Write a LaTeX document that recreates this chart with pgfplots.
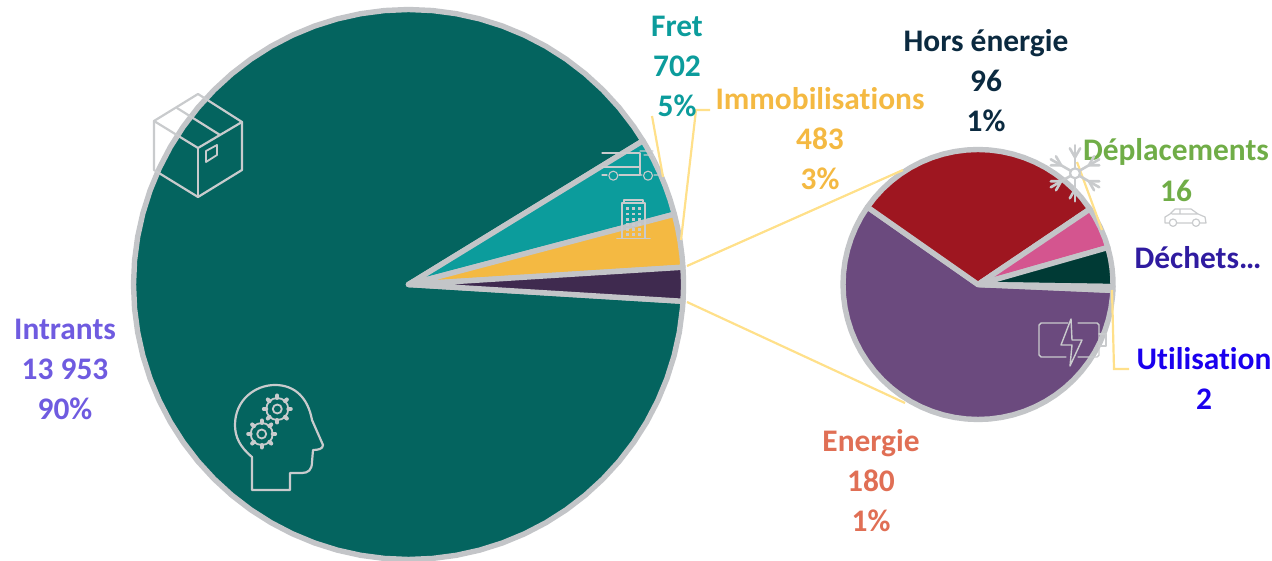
\documentclass[border=0pt]{standalone}
\usepackage{pgfplots}
\usepackage{fontspec}
\setmainfont{Carlito}[Ligatures=NoCommon]
\pgfplotsset{compat=1.18}
\definecolor{ring}{HTML}{C3C5C8}
\definecolor{cIntr}{HTML}{04645F}
\definecolor{cFret}{HTML}{0C9C9C}
\definecolor{cImmo}{HTML}{F4B942}
\definecolor{cRest}{HTML}{3F2A4F}
\definecolor{cHors}{HTML}{9E1620}
\definecolor{cDepl}{HTML}{D4558F}
\definecolor{cDech}{HTML}{003A35}
\definecolor{cUtil}{HTML}{C3C5C8}
\definecolor{cEner}{HTML}{6B4A7E}
\definecolor{tIntr}{HTML}{6F5BE0}
\definecolor{tFret}{HTML}{0C9C9C}
\definecolor{tImmo}{HTML}{F4B942}
\definecolor{tHors}{HTML}{0B2A40}
\definecolor{tDepl}{HTML}{70AD47}
\definecolor{tDech}{HTML}{2F1BA0}
\definecolor{tUtil}{HTML}{1A00EE}
\definecolor{tEner}{HTML}{E06F55}
\definecolor{lead}{HTML}{FFE08A}
\definecolor{icon}{HTML}{C9CBCD}
\pgfplotsset{base/.style={hide axis,scale only axis,width=636pt,height=280.5pt,clip=false,at={(0,0)},anchor=south west},
 wedge/.style={data cs=polar,mark=none,draw=ring,line join=round,line width=2.7pt,fill=#1}}
\tikzset{lbl/.style={font=\fontsize{15.7pt}{17pt}\selectfont\bfseries,inner sep=0pt,anchor=base,yshift=-5pt,text=#1}}
\begin{document}
\begin{tikzpicture}
\useasboundingbox (0,0) rectangle (636pt,280.5pt);
% main pie
\begin{axis}[base,xmin=-408.5,xmax=863.5,ymin=-276.5,ymax=284.5]
\addplot[wedge=cIntr] coordinates {(0,0) (31.5,275) (35,275) (40,275) (45,275) (50,275) (55,275) (60,275) (65,275) (70,275) (75,275) (80,275) (85,275) (90,275) (95,275) (100,275) (105,275) (110,275) (115,275) (120,275) (125,275) (130,275) (135,275) (140,275) (145,275) (150,275) (155,275) (160,275) (165,275) (170,275) (175,275) (180,275) (185,275) (190,275) (195,275) (200,275) (205,275) (210,275) (215,275) (220,275) (225,275) (230,275) (235,275) (240,275) (245,275) (250,275) (255,275) (260,275) (265,275) (270,275) (275,275) (280,275) (285,275) (290,275) (295,275) (300,275) (305,275) (310,275) (315,275) (320,275) (325,275) (330,275) (335,275) (340,275) (345,275) (350,275) (355,275) (356.5,275)} -- cycle;
\addplot[wedge=cFret] coordinates {(0,0) (14.8,275) (18,275) (21,275) (24,275) (27,275) (30,275) (31.5,275)} -- cycle;
\addplot[wedge=cImmo] coordinates {(0,0) (3.6,275) (6,275) (9,275) (12,275) (14.8,275)} -- cycle;
\addplot[wedge=cRest] coordinates {(0,0) (-3.5,275) (-1,275) (1,275) (3.6,275)} -- cycle;
\end{axis}
% second pie
\begin{axis}[base,xmin=-978,xmax=294,ymin=-276.5,ymax=284.5]
\addplot[wedge=cEner] coordinates {(0,0) (145,135) (150,135) (155,135) (160,135) (165,135) (170,135) (175,135) (180,135) (185,135) (190,135) (195,135) (200,135) (205,135) (210,135) (215,135) (220,135) (225,135) (230,135) (235,135) (240,135) (245,135) (250,135) (255,135) (260,135) (265,135) (270,135) (275,135) (280,135) (285,135) (290,135) (295,135) (300,135) (305,135) (310,135) (315,135) (320,135) (325,135) (330,135) (335,135) (340,135) (345,135) (350,135) (355,135) (357.5,135)} -- cycle;
\addplot[wedge=cHors] coordinates {(0,0) (34,135) (40,135) (45,135) (50,135) (55,135) (60,135) (65,135) (70,135) (75,135) (80,135) (85,135) (90,135) (95,135) (100,135) (105,135) (110,135) (115,135) (120,135) (125,135) (130,135) (135,135) (140,135) (145,135)} -- cycle;
\addplot[wedge=cDepl] coordinates {(0,0) (15.9,135) (20,135) (25,135) (30,135) (34,135)} -- cycle;
\addplot[wedge=cDech] coordinates {(0,0) (-0.9,135) (3,135) (7,135) (11,135) (15.9,135)} -- cycle;
\addplot[wedge=cUtil] coordinates {(0,0) (-2.5,135) (-0.9,135)} -- cycle;
\end{axis}
% labels and leader lines, in the picture's pixel grid
\begin{axis}[base,xmin=0,xmax=1272,ymin=0,ymax=561,y dir=reverse]
\addplot[lead,line width=1.1pt,mark=none] coordinates {(652,116) (663,177)};
\addplot[lead,line width=1.1pt,mark=none] coordinates {(710,110) (696,110) (681,240)};
\addplot[lead,line width=1.1pt,mark=none] coordinates {(687,266) (903,170)};
\addplot[lead,line width=1.1pt,mark=none] coordinates {(687,302) (905,403)};
\addplot[lead,line width=1.1pt,mark=none] coordinates {(1077,162) (1102,230)};
\addplot[lead,line width=1.1pt,mark=none] coordinates {(1112,290) (1114,369) (1129,369)};
\node[lbl=tIntr] at (axis cs:65,329) {Intrants};
\node[lbl=tIntr] at (axis cs:65,369) {13~953};
\node[lbl=tIntr] at (axis cs:65,409) {90\%};
\node[lbl=tFret] at (axis cs:677,27) {Fret};
\node[lbl=tFret] at (axis cs:677,67) {702};
\node[lbl=tFret] at (axis cs:677,107) {5\%};
\node[lbl=tImmo] at (axis cs:820,100) {Immobilisations};
\node[lbl=tImmo] at (axis cs:820,140) {483};
\node[lbl=tImmo] at (axis cs:820,180) {3\%};
\node[lbl=tHors] at (axis cs:986,42) {Hors énergie};
\node[lbl=tHors] at (axis cs:986,82) {96};
\node[lbl=tHors] at (axis cs:986,122) {1\%};
\node[lbl=tDepl] at (axis cs:1176,151) {Déplacements};
\node[lbl=tDepl] at (axis cs:1176,191) {16};
\node[lbl=tDech] at (axis cs:1198,258) {Déchets…};
\node[lbl=tUtil] at (axis cs:1204,359) {Utilisation};
\node[lbl=tUtil] at (axis cs:1204,399) {2};
\node[lbl=tEner] at (axis cs:871,441) {Energie};
\node[lbl=tEner] at (axis cs:871,481) {180};
\node[lbl=tEner] at (axis cs:871,521) {1\%};
\end{axis}
% line icons
\begin{scope}[x=0.5pt,y=-0.5pt,shift={(0,-561)},draw=icon,line width=1.1pt,line join=round,line cap=round]
% box
\draw (154,121)--(198,94)--(242,122)--(198,148)--cycle;
\draw (154,121)--(154,170)--(198,197)--(242,170)--(242,122);
\draw (198,148)--(198,197);
\draw (177,108)--(220,135);
\draw[line width=0.9pt] (206,151)--(217,145)--(217,155)--(206,162)--cycle;
% head
\draw (252,490)--(252,457) .. controls (240,447) and (235,437) .. (235,425)
  .. controls (235,400) and (255,385) .. (275,385)
  .. controls (295,385) and (308,398) .. (312,420)
  -- (323,445) .. controls (323,449) and (318,450) .. (313,450)
  -- (312,462) .. controls (312,470) and (308,473) .. (302,473)
  -- (290,473)--(290,490)--cycle;
\foreach \cx/\cy in {277.3/409,261.7/434}{
  \draw[line width=0.9pt] (\cx,\cy) circle[radius=4.5];
  \draw[line width=0.9pt] (\cx,\cy) circle[radius=11];
  \foreach \a in {0,45,...,315}{
    \draw[line width=2pt] ({\cx+11*cos(\a)},{\cy+11*sin(\a)})--({\cx+13.5*cos(\a)},{\cy+13.5*sin(\a)});
  }
}
% truck
\draw[line width=0.55pt] (602,153)--(640,153)--(640,175)--(619,175) (607,175)--(602,175)--cycle;
\draw[line width=0.55pt] (602,167)--(640,167);
\draw[line width=0.55pt] (640,151)--(653,151) (644,155)--(653,155)--(659,170)--(659,175)--(654,175) (642,175)--(640,175);
\draw[line width=0.55pt] (613.3,175.7) circle[radius=4.5] (648,175.7) circle[radius=4.5];
% building
\draw[line width=0.55pt] (622,238)--(622,203)--(645,203)--(645,238);
\draw[line width=0.55pt] (624,203)--(624,200)--(643,200)--(643,203);
\draw[line width=0.8pt] (617,238.7)--(650,238.7);
\foreach \xx in {627.3,633.3,639.3}\foreach \yy in {208.3,214,219.3,224.3,229.3,234.3}{
  \fill[icon] (\xx-1.3,\yy-1.3) rectangle (\xx+1.3,\yy+1.3);
}
% snowflake
\draw (1075,173.3) circle[radius=5];
\foreach \a in {30,90,150,210,270,330}{
  \draw[line width=1.3pt] ({1075+5*cos(\a)},{173.3+5*sin(\a)})--({1075+28*cos(\a)},{173.3+28*sin(\a)});
  \draw[line width=1.3pt] ({1075+22*cos(\a)+6*cos(\a+60)},{173.3+22*sin(\a)+6*sin(\a+60)})--({1075+16*cos(\a)},{173.3+16*sin(\a)})--({1075+22*cos(\a)+6*cos(\a-60)},{173.3+22*sin(\a)+6*sin(\a-60)});
}
% car
\draw[line width=0.6pt] (1169,223)--(1165,223)--(1165,217)--(1170,214)--(1175,209)--(1191,209)--(1198,214)--(1205,217)--(1206,223)--(1200,223) (1177,223)--(1192,223) (1172,214)--(1198,214) (1180,209)--(1180,214);
\draw[line width=0.6pt] (1173,222.7) circle[radius=3.7] (1196,222.7) circle[radius=3.7];
% battery
\draw[line width=0.7pt] (1068,323)--(1041,323)--(1039,325)--(1039,355)--(1041,357)--(1066,357);
\draw[line width=0.7pt] (1078,323)--(1097,323)--(1099,325)--(1099,355)--(1097,357)--(1078,357);
\draw[line width=0.7pt] (1099,334)--(1106,334)--(1106,346)--(1099,346);
\draw[line width=0.7pt] (1071,319)--(1061,345)--(1072,345)--(1070,366)--(1082,340)--(1072,340)--cycle;
\end{scope}
\end{tikzpicture}
\end{document}
